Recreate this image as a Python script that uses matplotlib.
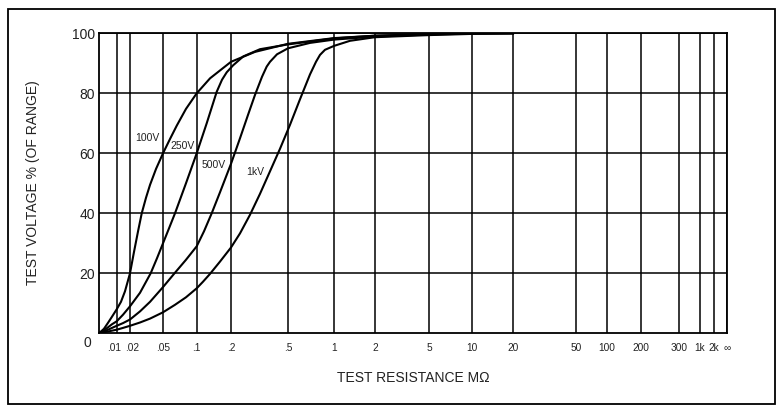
import matplotlib; matplotlib.use("Agg")
import matplotlib.pyplot as plt
import matplotlib.transforms as mtrans
import numpy as np
from matplotlib.patches import Rectangle

plt.rcParams['font.family'] = ['Liberation Sans', 'DejaVu Sans']

# --- test voltage (% of range) vs test resistance (MOhm), one curve per range ---
r_100v = [0, .0028, .0051, .0073, .01, .0125, .0154, .02, .0223, .025, .0277, .0312,
          .0349, .0412, .05, .0578, .0663, .0802, .1, .131, .2, .294, .5, 1, 2, 5, 10, 20]
v_100v = [0, 1.5, 3.5, 5.5, 8, 10.5, 14, 20, 27, 34, 40, 45.2,
          49.5, 54.8, 60, 64.8, 69.2, 74.8, 80, 85, 90.5, 93.8, 96.5, 98.4, 99.2, 99.7, 100, 100]

r_250v = [0, .0028, .0051, .0073, .01, .0139, .02, .0264, .0355, .0423, .05, .0566, .064,
          .0802, .1, .1224, .1498, .1667, .1834, .2066, .2437, .3188, .5, 1, 2, 5, 10, 20]
v_250v = [0, 1, 2, 3, 4, 6.2, 9, 13.5, 20, 25, 30, 35, 40,
          50, 60, 70, 80.5, 84.5, 87, 89.3, 92.3, 94.7, 96.3, 98.3, 99.2, 99.7, 100, 100]

r_500v = [0, .0051, .01, .0139, .02, .0264, .0349, .05, .064, .0802, .1, .1159, .1354,
          .1601, .2, .2311, .2629, .2943, .3292, .355, .3744, .419, .5, .6966, 1, 2, 5, 10, 20]
v_500v = [0, 1.2, 2.5, 3.4, 4.6, 7.3, 10.5, 15.4, 20.2, 24.5, 29, 34, 40,
          47, 56.5, 65, 72.8, 79.5, 85.5, 88.9, 90.5, 93, 95, 96.8, 97.9, 98.9, 99.6, 99.9, 100]

r_1kv = [0, .0051, .01, .0139, .02, .0264, .0349, .05, .064, .0802, .1, .1136, .1308, .1601,
         .2, .2311, .2714, .3188, .3744, .4396, .5153, .599, .6966, .7624, .8098, .873,
         1, 1.311, 2, 5, 10, 20]
v_1kv = [0, .6, 1.2, 1.8, 2.5, 3.6, 4.9, 7, 9.5, 12, 15, 17.2, 19.8, 23.9,
         28.6, 33.3, 39.5, 46.5, 54, 61.5, 69.5, 78, 86.3, 90.5, 92.8, 94.5,
         95.8, 97.5, 98.7, 99.4, 99.8, 100]

curve_names = ["100V", "250V", "500V", "1kV"]

# x-axis of the printed chart (non-uniform); "∞" stands at the right edge
INF_R = 1e4
tick_vals = [.01, .02, .05, .1, .2, .5, 1, 2, 5, 10, 20, 50, 100, 200, 300, 1000, 2000, INF_R]
tick_labels = [".01", ".02", ".05", ".1", ".2", ".5", "1", "2", "5", "10", "20",
               "50", "100", "200", "300", "1k", "2k", "\u221e"]
# where each printed gridline sits along the axis (pixels from the origin)
tick_pos = [17.7, 31, 64, 97.7, 132, 189, 235, 276, 330, 373, 414,
            477, 508, 542, 580, 601, 615, 628]

KR = np.log10(tick_vals)
KP = np.array(tick_pos)


def fwd(x):
    x = np.asarray(x, float)
    out = np.zeros_like(x)
    lo = x < tick_vals[0]
    out[lo] = np.clip(x[lo], 0, None) / tick_vals[0] * KP[0]
    hi = ~lo
    out[hi] = np.interp(np.log10(x[hi]), KR, KP)
    return out


def inv(p):
    p = np.asarray(p, float)
    out = np.zeros_like(p)
    lo = p < KP[0]
    out[lo] = np.clip(p[lo], 0, None) / KP[0] * tick_vals[0]
    hi = ~lo
    out[hi] = 10 ** np.interp(p[hi], KP, KR)
    return out


fig = plt.figure(figsize=(7.83, 4.12), dpi=100)
ax = fig.add_axes([99 / 783, 1 - 333.3 / 412, 628 / 783, 300 / 412])
ax.set_xscale('function', functions=(fwd, inv))
ax.set_xlim(0, INF_R)
ax.set_ylim(0, 100)

ax.set_xticks(tick_vals, tick_labels)
ax.set_yticks([20, 40, 60, 80, 100])
ax.tick_params(axis='x', length=0, pad=7, labelsize=7.3, colors='#222222')
ax.tick_params(axis='y', length=0, pad=3, labelsize=10, colors='#222222')
ax.grid(True, color='black', lw=1.1)
ax.set_axisbelow(True)
for s in ax.spines.values():
    s.set_linewidth(1.3)

# the two crowded labels at the left are spread apart a little, as printed
xl = ax.get_xticklabels()
for lbl, dx in [(xl[0], -2.2), (xl[1], 2.5)]:
    lbl.set_transform(lbl.get_transform()
                      + mtrans.ScaledTranslation(dx / 100, 0, fig.dpi_scale_trans))

for r, v in [(r_100v, v_100v), (r_250v, v_250v), (r_500v, v_500v), (r_1kv, v_1kv)]:
    ax.plot(r, v, color='black', lw=1.5, solid_joinstyle='round')

lab_xy = [(0.058, 0.651), (0.113, 0.624), (0.164, 0.561), (0.235, 0.539)]
for name, (lx, ly) in zip(curve_names, lab_xy):
    ax.text(lx, ly, name, transform=ax.transAxes, fontsize=7.5, color='#222222',
            ha='left', va='center')

ax.text(-0.012, -0.033, "0", transform=ax.transAxes, fontsize=10, color='#222222',
        ha='right', va='center')

fig.text(413 / 783, 1 - 378 / 412, "TEST RESISTANCE M\u03a9", fontsize=10,
         color='#222222', ha='center', va='center')
fig.text(33 / 783, 1 - 183 / 412, "TEST VOLTAGE % (OF RANGE)", fontsize=10,
         color='#222222', ha='center', va='center', rotation=90)

fig.patches.append(Rectangle((8 / 783, 1 - 404 / 412), 767 / 783, 395 / 412,
                             transform=fig.transFigure, fill=False,
                             edgecolor='black', lw=1.3))

fig.savefig("out.png", dpi=100)
